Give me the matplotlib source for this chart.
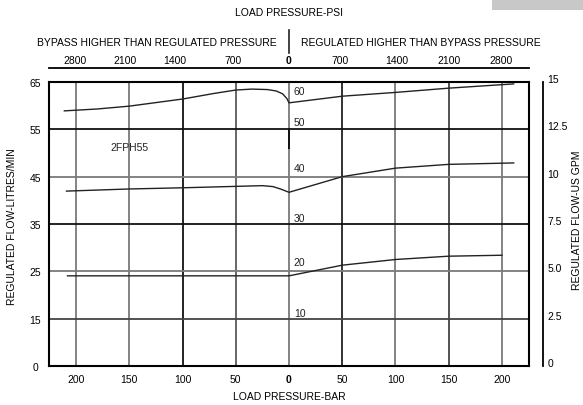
import matplotlib
matplotlib.use("Agg")
import matplotlib.pyplot as plt
from matplotlib.lines import Line2D
from matplotlib.patches import Rectangle

plt.rcParams["font.family"] = ["Liberation Sans", "DejaVu Sans"]
FS = 7.5

W, H = 583, 406

# load pressure in bar (negative = bypass side), regulated flow in L/min
bar_ticks = [-200, -150, -100, -50, 0, 50, 100, 150, 200]
bar_labels = ["200", "150", "100", "50", "0", "50", "100", "150", "200"]
psi_ticks = [-201, -154, -107, -53, 0, 48, 101, 150, 199]
psi_labels = ["2800", "2100", "1400", "700", "0", "700", "1400", "2100", "2800"]

lpm_ticks = [5, 15, 25, 35, 45, 55, 65]
lpm_labels = ["0", "15", "25", "35", "45", "55", "65"]
gpm_ticks = [0, 2.5, 5, 7.5, 10, 12.5, 15]
gpm_labels = ["0", "2.5", "5.0", "7.5", "10", "12.5", "15"]

curve60_x = [-211, -180, -150, -100, -70, -50, -35, -20, -12, -6, -2, 0, 50, 100, 150, 211]
curve60_y = [58.9, 59.3, 59.9, 61.4, 62.6, 63.3, 63.5, 63.4, 63.1, 62.5, 61.5, 60.6, 62.0, 62.8, 63.7, 64.6]

curve40_x = [-209, -150, -100, -50, -25, -15, -8, 0, 50, 100, 150, 211]
curve40_y = [41.95, 42.4, 42.65, 42.95, 43.1, 42.9, 42.4, 41.7, 45.0, 46.8, 47.6, 47.9]

curve20_x = [-208, 0, 50, 100, 150, 200]
curve20_y = [24.05, 24.05, 26.3, 27.5, 28.2, 28.4]

setting_labels = ["60", "50", "40", "30", "20", "10"]
setting_y = [63.1, 56.5, 46.8, 36.2, 26.9, 16.2]


def fx(px):
    return px / W


def fy(py):
    return 1 - py / H


fig = plt.figure(figsize=(W / 100, H / 100), dpi=100)
ax = fig.add_axes([fx(49), fy(367), fx(529) - fx(49), fy(83) - fy(367)])
ax.set_xlim(-225.4, 225.4)
ax.set_ylim(5, 65)

# grid
vcols = {-200: "#7a7a7a", -150: "#7a7a7a", -100: "#111111", -50: "#5a5a5a", 0: "#7a7a7a",
         50: "#222222", 100: "#7a7a7a", 150: "#444444", 200: "#7a7a7a"}
for x in bar_ticks:
    ax.axvline(x, color=vcols[x], lw=1.3, zorder=1)
hcols = {15: "#444444", 25: "#7a7a7a", 35: "#111111", 45: "#7a7a7a", 55: "#111111"}
for y, c in hcols.items():
    ax.axhline(y, color=c, lw=1.3, zorder=1)
ax.plot([0, 0], [55, 51], color="#111111", lw=1.4, zorder=2)

for xs, ys in [(curve60_x, curve60_y), (curve40_x, curve40_y), (curve20_x, curve20_y)]:
    ax.plot(xs, ys, color="#222222", lw=1.0, zorder=3)

for t, y in zip(setting_labels, setting_y):
    ax.text(4.5, y, t, fontsize=FS, ha="left", va="center", color="#222222")
ax.text(-150, 51.2, "2FPH55", fontsize=FS, ha="center", va="center", color="#222222")

for s in ax.spines.values():
    s.set_linewidth(1.5)
ax.set_xticks(bar_ticks)
ax.set_xticklabels(bar_labels)
ax.set_yticks(lpm_ticks)
ax.set_yticklabels(lpm_labels, ha="center")
ax.tick_params(axis="x", length=0, pad=6, labelsize=FS)
ax.tick_params(axis="y", length=0, pad=10, labelsize=FS)
ax.get_xticklabels()[4].set_fontweight("bold")
ax.set_xlabel("LOAD PRESSURE-BAR", fontsize=FS, labelpad=5)
fig.text(fx(12), fy(227), "REGULATED FLOW-LITRES/MIN", fontsize=FS, rotation=90,
         ha="center", va="center")

# US GPM scale on a detached right spine
ax2 = ax.twinx()
ax2.set_ylim(0, 15)
ax2.set_yticks(gpm_ticks)
ax2.set_yticklabels(gpm_labels)
for k in ["top", "bottom", "left"]:
    ax2.spines[k].set_visible(False)
ax2.spines["right"].set_position(("outward", 10.1))
ax2.spines["right"].set_linewidth(1.3)
ax2.tick_params(axis="y", length=0, pad=3, labelsize=FS)
for lab in ax2.get_yticklabels():
    lab.set_verticalalignment("baseline")
fig.text(fx(577), fy(220), "REGULATED FLOW-US GPM", fontsize=FS, rotation=90,
         ha="center", va="center")

# PSI scale on top
ax3 = ax.twiny()
ax3.set_xlim(ax.get_xlim())
ax3.set_xticks(psi_ticks)
ax3.set_xticklabels(psi_labels)
for k in ["right", "bottom", "left"]:
    ax3.spines[k].set_visible(False)
ax3.spines["top"].set_position(("outward", 10.4))
ax3.spines["top"].set_linewidth(1.3)
ax3.tick_params(axis="x", length=0, pad=2, labelsize=FS)
ax3.get_xticklabels()[4].set_fontweight("bold")

fig.text(fx(157), fy(43), "BYPASS HIGHER THAN REGULATED PRESSURE", fontsize=FS,
         ha="center", va="center")
fig.text(fx(421), fy(43), "REGULATED HIGHER THAN BYPASS PRESSURE", fontsize=FS,
         ha="center", va="center")
fig.add_artist(Line2D([fx(289), fx(289)], [fy(31), fy(54)], color="#222222", lw=1.2))
fig.text(fx(289), fy(13), "LOAD PRESSURE-PSI", fontsize=FS, ha="center", va="center")
fig.add_artist(Rectangle((fx(492), fy(11)), fx(583) - fx(492), fy(0) - fy(11),
                         color="#c8c8c8", lw=0))

fig.savefig("out.png", dpi=100)
